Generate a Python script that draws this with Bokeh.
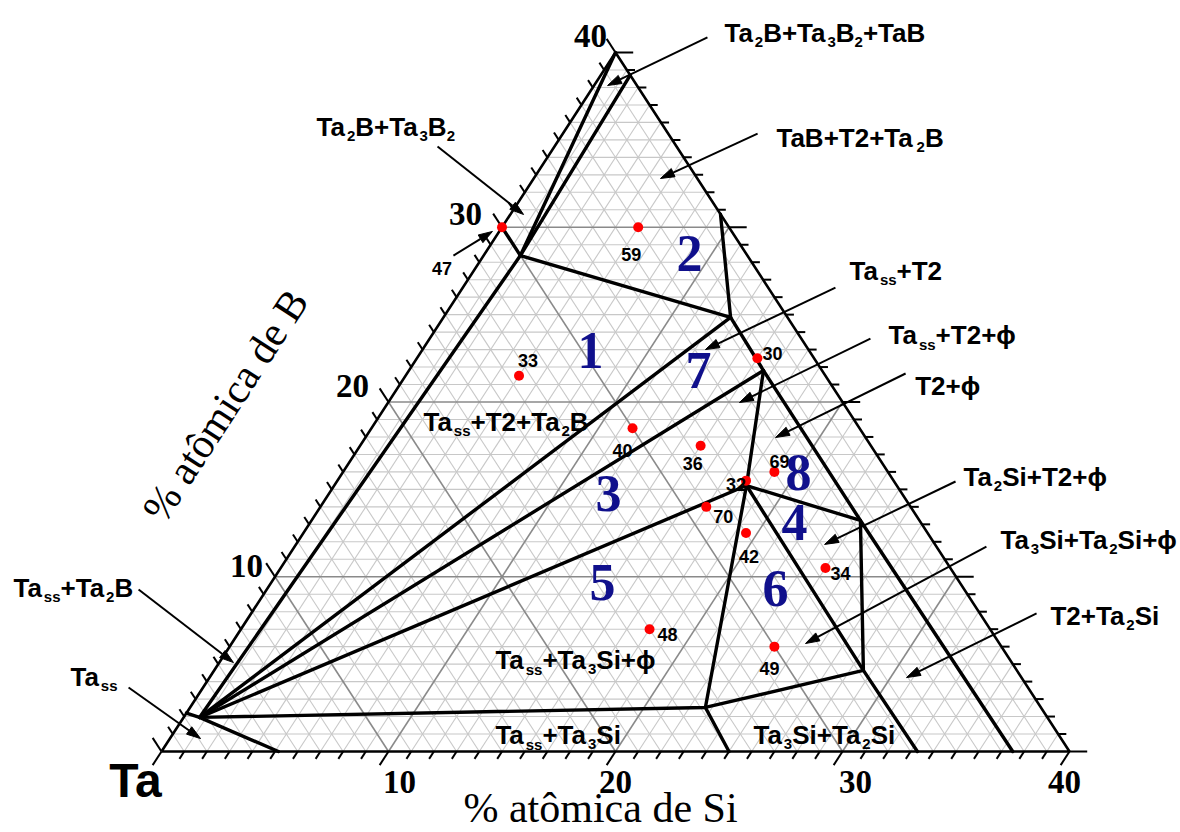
import numpy as np
from bokeh.plotting import figure
from bokeh.models import Range1d
from bokeh.core.properties import value
from bokeh.embed import file_html
from bokeh.resources import INLINE

# ---------------------------------------------------------------------------
# Ta-rich corner of the Ta-Si-B isothermal section (Si and B in at.%, 0-40)
# Plot units: X = Si + B/2, Y = B
# ---------------------------------------------------------------------------
W, H = 1180, 832
SX, SY = 22.7, 17.475          # pixels per plot unit
X0_PX, Y0_PX = 161, 751        # where the Ta corner sits on the canvas
SPAN = 40

# phase-field corners (Si, B)
TASS = (0.7, 1.95)
TASS_EDGE = (0.0, 2.2)
TASS_BOTTOM = (5.15, 0.0)
TA2B = (1.62, 28.38)
TA2B_EDGE = (0.0, 30.0)
TA3B2 = (0.0, 40.0)
TAB_EXIT = (1.3, 38.7)
T2 = (12.65, 24.84)
T2_EXIT = (9.25, 30.75)
T2_PHI = (15.62, 21.8)
PHI = (18.16, 15.22)
PHI_TA2SI = (24.18, 13.22)
TA2SI_CORNER = (28.6, 4.64)
TA3SI_CORNER = (22.7, 2.52)
TA3SI = (25.0, 0.0)
TA2SI = (33.3, 0.0)
TA5SI3 = (37.5, 0.0)

boundaries = [
    [TASS_EDGE, TASS, TASS_BOTTOM],
    [TASS, TA2B],
    [TA2B_EDGE, TA2B, TA3B2],
    [TA2B, TAB_EXIT],
    [TASS, T2],
    [TA2B, T2, T2_EXIT],
    [TASS, T2_PHI],
    [TASS, PHI],
    [TASS, TA3SI_CORNER, TA2SI_CORNER],
    [T2, T2_PHI, PHI_TA2SI, TA5SI3],
    [T2_PHI, PHI, TA3SI_CORNER, TA3SI],
    [PHI, PHI_TA2SI, TA2SI_CORNER],
    [PHI, TA2SI_CORNER, TA2SI],
]

# alloy compositions
sample_id = ["59", "47", "33", "30", "40", "36", "69", "32", "70", "42", "34", "48", "49"]
sample_si = [6, 0, 5, 15, 11.5, 15, 19, 18, 17, 19.5, 24, 18, 24]
sample_b = [30, 30, 21.5, 22.5, 18.5, 17.5, 16, 15.5, 14, 12.5, 10.5, 7, 6]
# label placement relative to each dot (pixels: right, down)
sample_dx = [-17, -70, -1, 5, -20, -18, -5, -20, 7, -7, 5, 8, -15]
sample_dy = [27, 41, -15, -5, 22, 18, -10, 4, 10, 23, 5, 5, 22]

# field numbers (plot units)
field_num = ["1", "2", "3", "4", "5", "6", "7", "8"]
field_x = [18.9, 23.26, 19.69, 27.89, 19.43, 27.05, 23.66, 28.06]
field_y = [22.95, 28.5, 14.76, 13.1, 9.67, 9.33, 21.8, 15.97]

tick_values = [10, 20, 30, 40]
tick_labels = ["10", "20", "30", "40"]


def tern(s, b):
    return s + b / 2.0, b


p = figure(width=W, height=H,
           x_range=Range1d(-X0_PX / SX, (W - X0_PX) / SX),
           y_range=Range1d((Y0_PX - H) / SY, Y0_PX / SY),
           x_axis_type=None, y_axis_type=None, min_border=0,
           output_backend="svg", toolbar_location=None,
           outline_line_color=None, background_fill_color="white",
           border_fill_color="white")

# ---- composition grid ------------------------------------------------------
fine_x, fine_y, major_x, major_y = [], [], [], []
for k in range(1, SPAN):
    lines = [((0, k), (SPAN - k, k)),      # constant B
             ((k, 0), (k, SPAN - k)),      # constant Si
             ((0, k), (k, 0))]             # constant Ta
    for a, b in lines:
        xa, ya = tern(*a)
        xb, yb = tern(*b)
        if k % 10 == 0:
            major_x.append([xa, xb]); major_y.append([ya, yb])
        else:
            fine_x.append([xa, xb]); fine_y.append([ya, yb])
p.multi_line(fine_x, fine_y, line_color="#c8c8c8", line_width=1.1)
p.multi_line(major_x, major_y, line_color="#8a8a8a", line_width=1.6)

# ---- triangle edges and ticks ---------------------------------------------
corners = [(0, 0), (SPAN, 0), (0, SPAN), (0, 0)]
ex, ey = zip(*[tern(*c) for c in corners])
p.line(list(ex), list(ey), line_color="black", line_width=2.6)

tx, ty = [], []
for k in range(0, SPAN + 1):
    major = k % 10 == 0
    t = 0.78 if major else 0.42
    tr = 0.78 if major else 0.36
    # bottom edge (Si axis): along constant-Si direction, below
    x1, y1 = tern(k, 0)
    x2, y2 = tern(k, -t)
    tx.append([x1, x2]); ty.append([y1, y2])
    # left edge (B axis): along constant-Ta direction, outside
    x1, y1 = tern(0, k)
    x2, y2 = tern(-t, k + t)
    tx.append([x1, x2]); ty.append([y1, y2])
    # right edge: along constant-B direction, outside
    x1, y1 = tern(SPAN - k, k)
    x2, y2 = tern(SPAN - k + tr, k)
    tx.append([x1, x2]); ty.append([y1, y2])
p.multi_line(tx, ty, line_color="black", line_width=2)

# ---- phase boundaries -----------------------------------------------------
bx, by = [], []
for poly in boundaries:
    pts = [tern(*q) for q in poly]
    bx.append([q[0] for q in pts]); by.append([q[1] for q in pts])
p.multi_line(bx, by, line_color="black", line_width=3.4,
             line_join="round", line_cap="round")

# ---- samples ----------------------------------------------------------------
sx_, sy_ = zip(*[tern(s, b) for s, b in zip(sample_si, sample_b)])
p.scatter(list(sx_), list(sy_), size=10, fill_color="#ff0000", line_color=None)
lab_x = [x + dx / SX for x, dx in zip(sx_, sample_dx)]
lab_y = [y - dy / SY for y, dy in zip(sy_, sample_dy)]
p.text(lab_x, lab_y, text=sample_id, text_font=value("Liberation Sans"),
       text_font_style="bold", text_font_size="18px", text_color="black",
       text_baseline="alphabetic", text_align="left")

# ---- field numbers ----------------------------------------------------------
p.text(field_x, field_y, text=field_num, text_font=value("Liberation Serif"),
       text_font_style="bold", text_font_size="52px", text_color="#10108c",
       text_baseline="middle", text_align="center")

# ---- axis numbers and titles -----------------------------------------------
bot_x = [10.48, 20.0, 30.57, 39.78]
bot_y = [-1.77] * 4
left_x = [3.74, 8.41, 13.39, 18.9]
left_y = [10.59, 20.89, 30.73, 40.97]
p.text(bot_x + left_x, bot_y + left_y, text=tick_labels + tick_labels,
       text_font=value("Liberation Serif"), text_font_style="bold",
       text_font_size="33px", text_color="black",
       text_baseline="middle", text_align="center")
p.text([-1.15], [-1.66], text=["Ta"], text_font=value("Liberation Sans"),
       text_font_style="bold", text_font_size="48px", text_color="black",
       text_baseline="middle", text_align="center")
p.text([19.34], [-3.26], text=["% atômica de Si"],
       text_font=value("Liberation Serif"), text_font_size="42px",
       text_color="black", text_baseline="middle", text_align="center")
p.text([2.82], [19.8], text=["% atômica de B"], angle=np.arctan2(SY, SX / 2),
       text_font=value("Liberation Serif"), text_font_size="42px",
       text_color="black", text_baseline="middle", text_align="center")

# ---- phase-field labels with subscripts -------------------------------------
SANS_W = {"T": .611, "a": .556, "B": .722, "+": .584, "S": .667, "i": .278,
          "s": .556, "2": .556, "3": .556, "ϕ": .6}
field_labels = [
    (24.80, 41.14, [("Ta", 0), ("2", 1), ("B+Ta", 0), ("3", 1), ("B", 0), ("2", 1), ("+TaB", 0)]),
    (27.09, 35.08, [("TaB+T2+Ta", 0), ("2", 1), ("B", 0)]),
    (6.83, 35.71, [("Ta", 0), ("2", 1), ("B+Ta", 0), ("3", 1), ("B", 0), ("2", 1)]),
    (30.31, 27.52, [("Ta", 0), ("ss", 1), ("+T2", 0)]),
    (32.03, 23.81, [("Ta", 0), ("ss", 1), ("+T2+ϕ", 0)]),
    (33.20, 20.94, [("T2+ϕ", 0)]),
    (35.33, 15.68, [("Ta", 0), ("2", 1), ("Si+T2+ϕ", 0)]),
    (36.96, 12.13, [("Ta", 0), ("3", 1), ("Si+Ta", 0), ("2", 1), ("Si+ϕ", 0)]),
    (39.16, 7.78, [("T2+Ta", 0), ("2", 1), ("Si", 0)]),
    (-6.52, 9.38, [("Ta", 0), ("ss", 1), ("+Ta", 0), ("2", 1), ("B", 0)]),
    (-4.01, 4.29, [("Ta", 0), ("ss", 1)]),
    (11.54, 18.88, [("Ta", 0), ("ss", 1), ("+T2+Ta", 0), ("2", 1), ("B", 0)]),
    (14.71, 5.21, [("Ta", 0), ("ss", 1), ("+Ta", 0), ("3", 1), ("Si+ϕ", 0)]),
    (14.71, 0.92, [("Ta", 0), ("ss", 1), ("+Ta", 0), ("3", 1), ("Si", 0)]),
    (26.08, 0.92, [("Ta", 0), ("3", 1), ("Si+Ta", 0), ("2", 1), ("Si", 0)]),
]
MAIN_FS, SUB_FS, SUB_DROP = 26, 15, 9
mx, my, mt, ux, uy, ut = [], [], [], [], [], []
for x, y, parts in field_labels:
    for txt, is_sub in parts:
        fs = SUB_FS if is_sub else MAIN_FS
        if is_sub:
            ux.append(x); uy.append(y - SUB_DROP / SY); ut.append(txt)
        else:
            mx.append(x); my.append(y); mt.append(txt)
        x += sum(SANS_W.get(c, .6) for c in txt) * fs / SX
p.text(mx, my, text=mt, text_font=value("Liberation Sans"), text_font_style="bold",
       text_font_size=f"{MAIN_FS}px", text_color="black",
       text_baseline="alphabetic", text_align="left")
p.text(ux, uy, text=ut, text_font=value("Liberation Sans"), text_font_style="bold",
       text_font_size=f"{SUB_FS}px", text_color="black",
       text_baseline="alphabetic", text_align="left")

# ---- leader arrows (tail -> tip, plot units) --------------------------------
arrows = [
    (24.05, 40.86, 19.65, 38.11),
    (26.26, 35.36, 21.98, 32.79),
    (12.16, 34.62, 15.95, 30.73),
    (12.86, 28.38, 14.58, 29.76),
    (29.69, 26.55, 23.96, 23.00),
    (31.23, 23.63, 25.46, 19.97),
    (32.78, 21.63, 27.05, 17.97),
    (34.98, 15.45, 29.21, 11.85),
    (36.34, 11.73, 28.37, 6.18),
    (38.55, 7.90, 32.82, 4.23),
    (-1.01, 9.27, 3.17, 5.09),
    (-1.45, 3.66, 1.72, 0.74),
]
HEAD_L, HEAD_W = 14, 4.5
shaft_x, shaft_y, head_x, head_y = [], [], [], []
for x0, y0, x1, y1 in arrows:
    dxp, dyp = (x1 - x0) * SX, (y1 - y0) * SY
    n = np.hypot(dxp, dyp)
    ux_, uy_ = dxp / n, dyp / n
    bxp, byp = -HEAD_L * ux_, -HEAD_L * uy_
    px_, py_ = -uy_ * HEAD_W, ux_ * HEAD_W
    base = (x1 + bxp / SX, y1 + byp / SY)
    shaft_x.append([x0, base[0]]); shaft_y.append([y0, base[1]])
    head_x.append([x1, base[0] + px_ / SX, base[0] - px_ / SX])
    head_y.append([y1, base[1] + py_ / SY, base[1] - py_ / SY])
p.multi_line(shaft_x, shaft_y, line_color="black", line_width=2)
p.patches(head_x, head_y, fill_color="black", line_color="black", line_width=1)

open("out.html", "w").write(file_html(p, INLINE))
